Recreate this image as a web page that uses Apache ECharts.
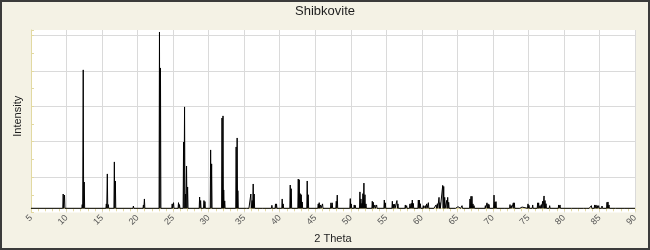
<!DOCTYPE html>
<html>
<head>
<meta charset="utf-8">
<script src="https://cdn.jsdelivr.net/npm/echarts@6/dist/echarts.min.js"></script>
<style>
html,body{margin:0;padding:0;background:#f4f2e5;}
#chart{width:650px;height:250px;}
</style>
</head>
<body>
<div id="chart"></div>
<script>
// Peak positions (2 Theta, degrees) and relative intensities
const peakTheta = [
 9.53, 9.72, 12.21, 12.35, 12.49, 15.60, 15.74, 15.88, 16.73, 16.87,
 19.41, 20.82, 20.96, 23.08, 23.22, 24.87, 25.06, 25.76, 25.90, 26.47,
 26.61, 26.75, 26.89, 27.04, 28.73, 28.87, 29.34, 29.48, 30.28, 30.42,
 31.88, 32.02, 32.12, 32.26, 33.87, 34.01, 34.11, 35.42, 35.61, 35.94,
 36.13, 36.27, 36.41, 37.68, 38.90, 39.08, 39.41, 39.55, 40.35, 40.49,
 41.48, 41.62, 42.61, 42.75, 42.89, 43.03, 43.17, 43.87, 44.01, 45.42,
 45.56, 45.75, 46.03, 46.17, 47.21, 47.39, 47.96, 48.10, 49.93, 50.07,
 50.49, 50.63, 51.29, 51.43, 51.57, 51.71, 51.85, 52.00, 52.14, 53.03,
 53.17, 53.40, 53.64, 54.72, 54.86, 55.85, 55.99, 56.17, 56.50, 56.64,
 57.68, 57.86, 58.33, 58.52, 58.66, 58.80, 59.51, 59.65, 59.79, 60.21,
 60.49, 60.68, 60.92, 61.76, 62.00, 62.19, 62.42, 62.55, 62.94, 63.08,
 63.22, 63.50, 63.64, 63.78, 64.81, 65.09, 65.52, 65.66, 65.84, 66.78,
 66.92, 67.06, 67.20, 67.35, 68.94, 69.17, 69.32, 69.46, 69.60, 70.16,
 70.30, 70.44, 71.75, 72.41, 72.60, 72.88, 73.02, 73.16, 73.86, 74.10,
 74.94, 75.08, 75.27, 75.60, 75.69, 76.30, 76.44, 76.63, 76.82, 77.00,
 77.20, 77.34, 77.48, 77.99, 78.18, 79.26, 79.45, 81.13, 82.03, 82.78,
 83.29, 83.62, 83.86, 84.09, 84.32, 84.51, 84.70, 84.89, 85.12, 85.36,
 86.06, 86.20, 86.34, 87.33, 88.64
];
const peakIntensity = [
 8.1, 7.5, 2.1, 78.5, 14.9, 2.5, 19.5, 2.1, 26.3, 15.5,
 1.3, 1.9, 5.3, 100, 79.6, 2.5, 3.2, 3.2, 2.1, 37.6,
 57.5, 8.1, 24.0, 12.1, 6.4, 4.4, 4.4, 3.8, 33.1, 25.2,
 51.2, 52.4, 10.4, 4.2, 34.8, 39.9, 10.0, 1.1, 0.7, 8.1,
 4.4, 13.8, 8.1, 0.7, 1.7, 0.9, 2.5, 2.5, 5.3, 2.5,
 13.2, 11.1, 16.6, 16.2, 8.3, 7.7, 3.6, 15.5, 7.7, 2.5,
 3.2, 1.9, 2.5, 1.1, 3.1, 3.1, 4.0, 7.5, 5.5, 2.5,
 1.9, 1.7, 9.3, 5.3, 2.8, 8.3, 14.3, 7.7, 2.5, 4.0,
 3.4, 1.9, 1.9, 4.7, 3.1, 4.0, 2.3, 2.3, 4.4, 2.5,
 1.9, 1.5, 2.5, 2.8, 4.7, 2.8, 4.7, 4.7, 2.6, 1.5,
 1.5, 2.5, 3.2, 0.9, 1.9, 2.6, 6.2, 3.2, 13.0, 12.4,
 6.2, 4.5, 6.2, 3.4, 0.7, 0.9, 0.9, 1.5, 0.9, 5.3,
 6.8, 6.8, 2.5, 1.5, 1.5, 3.1, 2.5, 2.1, 1.1, 7.5,
 3.6, 3.8, 0.7, 2.1, 1.5, 3.1, 3.1, 1.1, 0.7, 0.7,
 2.5, 1.7, 1.1, 1.9, 1.1, 3.1, 3.1, 1.5, 2.1, 4.0,
 7.0, 4.4, 2.6, 1.5, 1.1, 1.9, 1.9, 0.7, 0.7, 1.1,
 1.1, 1.1, 1.5, 1.1, 1.9, 1.9, 1.5, 1.5, 1.1, 1.3,
 3.4, 3.6, 1.9, 0.7, 0.7
];
const thetaRange = [5, 90];
const xTickStep = 5;

// Stick profile for the line series: baseline, then each peak as a narrow spike
const profile = [[thetaRange[0], 0]];
const halfWidth = 0.06;
for (let i = 0; i < peakTheta.length; i++) {
  profile.push([peakTheta[i] - halfWidth, 0]);
  profile.push([peakTheta[i], peakIntensity[i]]);
  profile.push([peakTheta[i] + halfWidth, 0]);
}
profile.push([thetaRange[1], 0]);

const axisYellow = '#e2d9a2';
const gridGray = '#dadada';
const font = 'Liberation Sans, Arial, sans-serif';

const chart = echarts.init(document.getElementById('chart'), null, {renderer: 'canvas'});
chart.setOption({
  animation: false,
  backgroundColor: '#f4f2e5',
  title: {
    text: 'Shibkovite',
    left: 'center',
    top: 0,
    textStyle: {fontFamily: font, fontSize: 13, fontWeight: 'normal', color: '#1e1e1e'}
  },
  graphic: [{
    type: 'rect', silent: true, z: 100,
    shape: {x: 1, y: 1, width: 648, height: 248},
    style: {fill: null, stroke: '#3b3b3b', lineWidth: 2}
  }],
  grid: {
    left: 31, right: 15, top: 30, bottom: 37.5,
    show: true, backgroundColor: '#ffffff', borderWidth: 0
  },
  xAxis: {
    type: 'value',
    min: thetaRange[0], max: thetaRange[1], interval: xTickStep,
    name: '2 Theta', nameLocation: 'middle', nameGap: 16,
    nameTextStyle: {fontFamily: font, fontSize: 11, color: '#1e1e1e'},
    axisLine: {show: true, lineStyle: {color: axisYellow, width: 1}},
    axisTick: {show: true, inside: false, length: 3, lineStyle: {color: axisYellow}},
    minorTick: {show: true, splitNumber: 5, length: 3, lineStyle: {color: axisYellow}},
    splitLine: {show: true, lineStyle: {color: gridGray, width: 1}},
    axisLabel: {rotate: 45, fontFamily: font, fontSize: 9, color: '#555', margin: 4}
  },
  yAxis: [{
    type: 'value', min: -2.38, max: 101.13, show: false,
    splitLine: {show: false}
  }, {
    type: 'value', min: 0, max: 5.155, interval: 1, position: 'left',
    name: 'Intensity', nameLocation: 'middle', nameGap: 8, nameRotate: 90,
    nameTextStyle: {fontFamily: font, fontSize: 11, color: '#1e1e1e', padding: [0, 0, 0, 10]},
    axisLine: {show: true, lineStyle: {color: axisYellow, width: 1}},
    axisTick: {show: true, inside: true, length: 3, lineStyle: {color: axisYellow}},
    minorTick: {show: true, splitNumber: 2, length: 3, lineStyle: {color: axisYellow}},
    splitLine: {show: true, showMinLine: false, showMaxLine: false, lineStyle: {color: gridGray, width: 1}},
    axisLabel: {show: false}
  }],
  series: [{
    type: 'line',
    yAxisIndex: 0,
    data: profile,
    showSymbol: false,
    symbol: 'none',
    clip: false,
    lineStyle: {color: '#000000', width: 1},
    silent: true
  }]
});
</script>
</body>
</html>
